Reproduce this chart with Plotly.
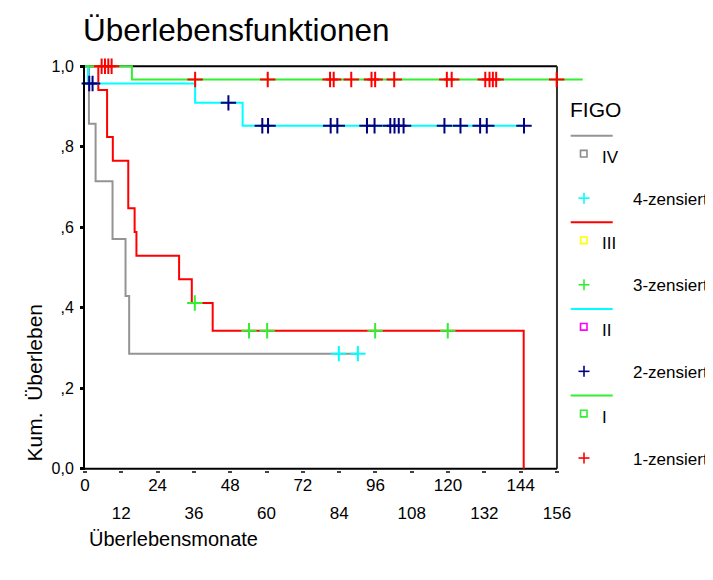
import numpy as np
import plotly.graph_objects as go

# ---------------- data ----------------
iv_times = [0, 1.3, 3.5, 9.1, 13.4, 14.6, 90.2]
iv_surv = [1.0, 0.857, 0.714, 0.571, 0.429, 0.286, 0.286]
iv_cens = [83.9, 90.2]

iii_times = [0, 4.4, 7.3, 9.2, 14.3, 16.4, 17.0, 31.1, 35.3, 42.2, 145.0]
iii_surv = [1.0, 0.941, 0.824, 0.765, 0.647, 0.588, 0.529, 0.471, 0.412, 0.343, 0.0]
iii_cens = [36.3, 54.2, 60.2, 95.9, 119.9]

ii_times = [0, 1.0, 36.4, 52.1, 145.1]
ii_surv = [1.0, 0.957, 0.909, 0.852, 0.852]
ii_cens = [1.4, 2.5, 47.4, 58.6, 60.5, 81.2, 83.4, 93.2, 95.7, 100.9, 102.3,
           103.7, 105.3, 118.8, 124.1, 130.6, 132.8, 145.1]

i_times = [0, 15.5, 164.5]
i_surv = [1.0, 0.967, 0.967]
i_cens = [5.5, 6.6, 7.7, 8.8, 36.4, 60.4, 81.0, 82.2, 88.0, 94.7, 95.9, 102.2,
          119.6, 121.2, 132.3, 133.7, 134.8, 135.9, 155.9]

group_labels = ["IV", "III", "II", "I"]
censor_labels = ["4-zensiert", "3-zensiert", "2-zensiert", "1-zensiert"]
x_ticks = list(range(0, 157, 12))
y_ticks = [0.0, 0.2, 0.4, 0.6, 0.8, 1.0]
y_ticktext = ["0,0", ",2", ",4", ",6", ",8", "1,0"]

title_text = "Überlebensfunktionen"
x_title = "Überlebensmonate"
y_title = "Kum.  Überleben"
legend_title = "FIGO"

# ---------------- styles ----------------
FONT = "Liberation Sans, Arial, sans-serif"
line_colors = ["#949494", "#ff0000", "#00ffff", "#33ee33"]
square_colors = ["#8c8c8c", "#ffff00", "#ff00ff", "#33ee33"]
censor_colors = ["#00ffff", "#33ee33", "#000080", "#ff0000"]

groups = [
    (iv_times, iv_surv, iv_cens),
    (iii_times, iii_surv, iii_cens),
    (ii_times, ii_surv, ii_cens),
    (i_times, i_surv, i_cens),
]


def step_at(times, surv, t):
    idx = np.searchsorted(np.asarray(times), np.asarray(t), side="right") - 1
    return [surv[k] for k in idx]


fig = go.Figure()

for (t, s, c), col in zip(groups, line_colors):
    fig.add_trace(go.Scatter(x=t, y=s, mode="lines", line=dict(color=col, width=2, shape="hv"),
                             showlegend=False, hoverinfo="skip"))

for (t, s, c), col in zip(groups, censor_colors):
    fig.add_trace(go.Scatter(x=c, y=step_at(t, s, c), mode="markers", xaxis="x2", yaxis="y",
                             marker=dict(symbol="cross-thin", size=11, line=dict(color=col, width=2)),
                             cliponaxis=False, showlegend=False, hoverinfo="skip"))

# page geometry (the html body has an 8px margin)
OFF = 8
W, H = 713 - OFF, 580 - OFF
# plot area in screen pixels
LS, RS, TS, BS = 85, 583, 65.3, 470.5
XMAX = 164.6


def px(x):
    return (x - LS) / (RS - LS)


def py(y):
    return (BS - y) / (BS - TS)


shapes = []
# frame (top, right, bottom)
shapes.append(dict(type="line", xref="x", yref="y", x0=0, x1=156, y0=1, y1=1,
                   line=dict(color="#000", width=2), layer="below"))
shapes.append(dict(type="line", xref="x", yref="y", x0=156, x1=156, y0=0, y1=1,
                   line=dict(color="#333", width=2), layer="below"))
shapes.append(dict(type="line", xref="x", yref="y", x0=0, x1=156, y0=0, y1=0,
                   line=dict(color="#000", width=2), layer="below"))

annotations = []
# legend
bases = [136, 222.7, 309.3, 396]
for i, b in enumerate(bases):
    shapes.append(dict(type="line", xref="paper", yref="paper", x0=px(570.7), x1=px(612.7),
                       y0=py(b), y1=py(b), line=dict(color=line_colors[i], width=2)))
    sq_y = b + 18
    shapes.append(dict(type="rect", xref="paper", yref="paper", x0=px(580.5), x1=px(587),
                       y0=py(sq_y - 3.3), y1=py(sq_y + 3.3),
                       line=dict(color=square_colors[i], width=1.6)))
    annotations.append(dict(text=group_labels[i], xref="paper", yref="paper", x=px(600),
                            y=py(b + 21.5), xanchor="left", yanchor="middle", showarrow=False,
                            font=dict(family=FONT, size=17, color="#000")))
    cy = b + 62.5
    shapes.append(dict(type="line", xref="paper", yref="paper", x0=px(578.5), x1=px(589.5),
                       y0=py(cy), y1=py(cy), line=dict(color=censor_colors[i], width=1.6)))
    shapes.append(dict(type="line", xref="paper", yref="paper", x0=px(584), x1=px(584),
                       y0=py(cy - 5.5), y1=py(cy + 5.5), line=dict(color=censor_colors[i], width=1.6)))
    annotations.append(dict(text=censor_labels[i], xref="paper", yref="paper", x=px(631),
                            y=py(cy + 1), xanchor="left", yanchor="middle", showarrow=False,
                            font=dict(family=FONT, size=17, color="#000")))

annotations.append(dict(text=legend_title, xref="paper", yref="paper", x=px(568), y=py(110),
                        xanchor="left", yanchor="middle", showarrow=False,
                        font=dict(family=FONT, size=21, color="#000")))
annotations.append(dict(text=x_title, xref="paper", yref="paper", x=px(87), y=py(540),
                        xanchor="left", yanchor="middle", showarrow=False,
                        font=dict(family=FONT, size=20, color="#000")))
annotations.append(dict(text=y_title, xref="paper", yref="paper", x=px(35), y=py(383),
                        xanchor="center", yanchor="middle", showarrow=False, textangle=-90,
                        font=dict(family=FONT, size=21, color="#000")))

row1 = x_ticks[0::2]
row2 = x_ticks[1::2]

fig.update_layout(
    width=W, height=H,
    margin=dict(l=LS - OFF, r=W - (RS - OFF), t=TS - OFF, b=H - (BS - OFF), autoexpand=False),
    paper_bgcolor="white", plot_bgcolor="white",
    title=dict(text=title_text, xref="container", yref="container", x=(83 - OFF) / W,
               xanchor="left", y=1 - (30 - OFF) / H, yanchor="middle",
               font=dict(family=FONT, size=31.5, color="#000")),
    xaxis=dict(range=[0, XMAX], tickvals=x_ticks,
               ticktext=[str(v) if v in row1 else "" for v in x_ticks],
               ticks="outside", ticklen=2, tickwidth=4, tickcolor="#444",
               showline=False, showgrid=False, zeroline=False, ticklabelstandoff=-2,
               tickfont=dict(family=FONT, size=17, color="#000")),
    xaxis2=dict(range=[0, XMAX], overlaying="x", anchor="y", side="bottom",
                tickvals=row2, ticktext=[str(v) for v in row2], ticks="",
                showline=False, showgrid=False, zeroline=False, ticklabelstandoff=31,
                tickfont=dict(family=FONT, size=17, color="#000")),
    yaxis=dict(range=[-0.003, 1.003], tickvals=y_ticks, ticktext=y_ticktext,
               ticks="outside", ticklen=3, tickwidth=3, tickcolor="#000",
               showline=True, linewidth=2, linecolor="#000", showgrid=False, zeroline=False,
               ticklabelstandoff=3, tickfont=dict(family=FONT, size=16, color="#000")),
    shapes=shapes, annotations=annotations,
)

fig.write_html("out.html")
